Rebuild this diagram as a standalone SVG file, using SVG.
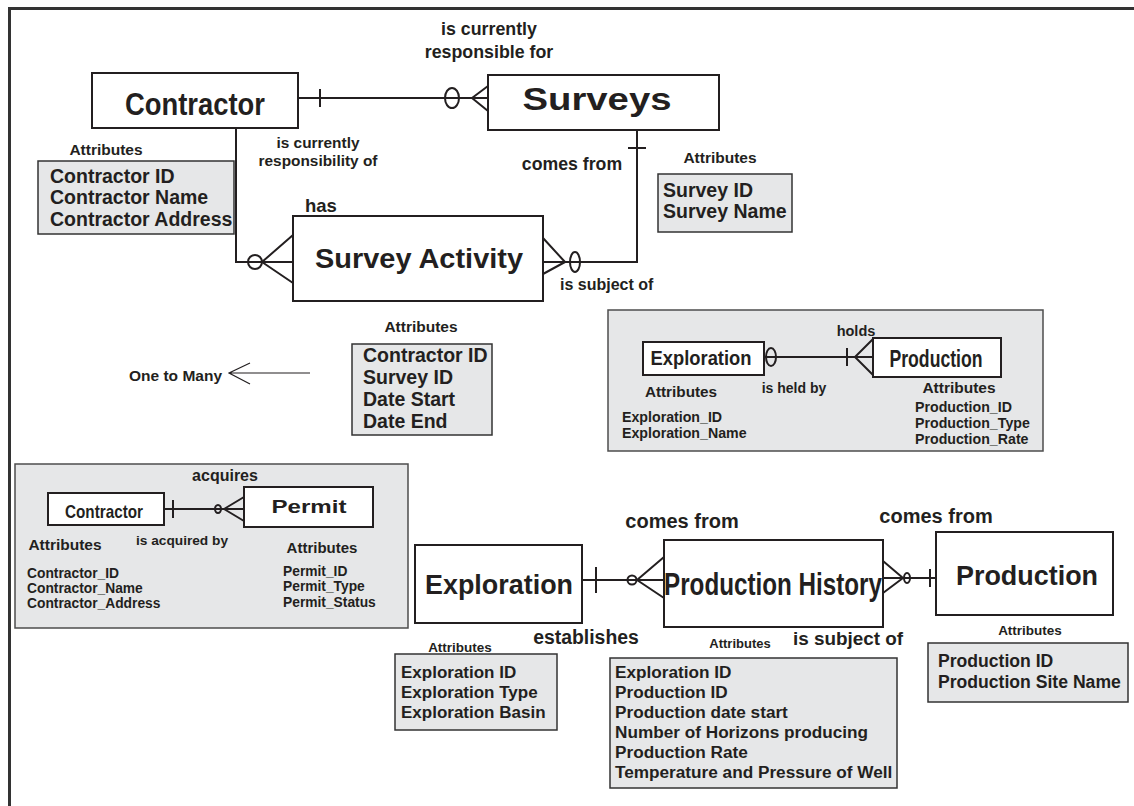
<svg xmlns="http://www.w3.org/2000/svg" width="1134" height="806" viewBox="0 0 1134 806">
  <style>
    text { font-family: "Liberation Sans", Arial, sans-serif; font-weight: bold; fill: #231f20; }
    .ent { fill: #ffffff; stroke: #231f20; stroke-width: 2; }
    .attr { fill: #e6e7e8; stroke: #333333; stroke-width: 1.5; }
    .panel { fill: #e6e7e8; stroke: #4d4d4d; stroke-width: 1.5; }
    .ln { fill: none; stroke: #231f20; stroke-width: 2; }
    .thin { fill: none; stroke: #231f20; stroke-width: 1.2; }
    .mid { text-anchor: middle; }
  </style>

  <rect x="0" y="0" width="1134" height="806" fill="#ffffff"/>
  <!-- frame -->
  <path d="M9.5,806 V8.5 H1134" fill="none" stroke="#333333" stroke-width="3"/>

  <!-- ===== Top ER model ===== -->
  <g id="contractor">
    <rect class="ent" x="92" y="73" width="206" height="55"/>
    <text x="195" y="115" class="mid" font-size="32" textLength="140" lengthAdjust="spacingAndGlyphs">Contractor</text>
  </g>
  <g id="contractor-attributes">
    <text x="106" y="155" class="mid" font-size="15.5">Attributes</text>
    <rect class="attr" x="38" y="161" width="196" height="73"/>
    <text x="50" y="183" font-size="19.5">Contractor ID</text>
    <text x="50" y="204" font-size="19.5">Contractor Name</text>
    <text x="50" y="226" font-size="19.5">Contractor Address</text>
  </g>

  <g id="surveys">
    <rect class="ent" x="488" y="75" width="231" height="55"/>
    <text x="597" y="110" class="mid" font-size="31" textLength="149" lengthAdjust="spacingAndGlyphs">Surveys</text>
  </g>
  <g id="surveys-attributes">
    <text x="720" y="163" class="mid" font-size="15.5">Attributes</text>
    <rect class="attr" x="658" y="174" width="134" height="58"/>
    <text x="663" y="197" font-size="19.5">Survey ID</text>
    <text x="663" y="218" font-size="19.5">Survey Name</text>
  </g>

  <g id="survey-activity">
    <rect class="ent" x="293" y="216" width="250" height="85"/>
    <text x="419" y="268" class="mid" font-size="28" textLength="208" lengthAdjust="spacingAndGlyphs">Survey Activity</text>
  </g>
  <g id="survey-activity-attributes">
    <text x="421" y="332" class="mid" font-size="15.5">Attributes</text>
    <rect class="attr" x="352" y="344" width="140" height="91"/>
    <text x="363" y="362" font-size="19.5">Contractor ID</text>
    <text x="363" y="384" font-size="19.5">Survey ID</text>
    <text x="363" y="406" font-size="19.5">Date Start</text>
    <text x="363" y="428" font-size="19.5">Date End</text>
  </g>

  <g id="legend">
    <text x="129" y="381" font-size="15.5">One to Many</text>
    <path class="thin" d="M310,373 H229 M250,363 L229,373 L250,384"/>
  </g>

  <g id="connectors">
    <!-- Contractor to Surveys -->
    <path class="ln" d="M298,98 H488 M320,89 V107 M472,98 L488,86 M472,98 L488,111"/>
    <ellipse class="ln" cx="452" cy="98" rx="7" ry="10" fill="#ffffff"/>
    <!-- Contractor to Survey Activity -->
    <path class="ln" d="M236,128 V262 H293 M262,262 L293,235 M262,262 L293,283"/>
    <circle class="ln" cx="255" cy="262" r="7" fill="#ffffff"/>
    <!-- Surveys to Survey Activity -->
    <path class="ln" d="M637,130 V262 H543 M628,148 H646 M565,262 L543,238 M565,262 L543,274"/>
    <ellipse class="ln" cx="575" cy="262" rx="5" ry="10" fill="#ffffff"/>
  </g>

  <g id="labels-top">
    <text x="489" y="35" class="mid" font-size="17.8">is currently</text>
    <text x="489" y="58" class="mid" font-size="17.8">responsible for</text>
    <text x="318" y="148" class="mid" font-size="15.4">is currently</text>
    <text x="318" y="166" class="mid" font-size="15.4">responsibility of</text>
    <text x="572" y="170" class="mid" font-size="17.7">comes from</text>
    <text x="305" y="212" font-size="18.5">has</text>
    <text x="560" y="290" font-size="16">is subject of</text>
  </g>

  <!-- ===== Exploration / Production panel ===== -->
  <g id="panel-exploration-production">
    <rect class="panel" x="608" y="310" width="435" height="141"/>
    <g id="panel-exploration">
      <rect class="ent" x="643" y="342" width="121" height="33"/>
      <text x="701" y="365" class="mid" font-size="20" textLength="101" lengthAdjust="spacingAndGlyphs">Exploration</text>
      <text x="681" y="397" class="mid" font-size="15.3">Attributes</text>
      <text x="622" y="422" font-size="14.2">Exploration_ID</text>
      <text x="622" y="438" font-size="14.2">Exploration_Name</text>
    </g>
    <g id="panel-production">
      <rect class="ent" x="873" y="338" width="128" height="39"/>
      <text x="936" y="367" class="mid" font-size="23" textLength="93" lengthAdjust="spacingAndGlyphs">Production</text>
      <text x="959" y="393" class="mid" font-size="15.5">Attributes</text>
      <text x="915" y="412" font-size="14.2">Production_ID</text>
      <text x="915" y="428" font-size="14.2">Production_Type</text>
      <text x="915" y="444" font-size="14.2">Production_Rate</text>
    </g>
    <g id="panel-connector">
      <path class="ln" d="M764,357 H873 M847,348 V366 M855,357 L873,339 M855,357 L873,375"/>
      <ellipse class="ln" cx="771" cy="357" rx="5" ry="9" fill="#e6e7e8"/>
    </g>
    <text x="856" y="336" class="mid" font-size="14.5">holds</text>
    <text x="794" y="393" class="mid" font-size="14">is held by</text>
  </g>

  <!-- ===== Contractor / Permit panel ===== -->
  <g id="panel-contractor-permit">
    <rect class="panel" x="15" y="464" width="393" height="164"/>
    <g id="panel-contractor">
      <rect class="ent" x="48" y="493" width="116" height="32"/>
      <text x="104" y="518" class="mid" font-size="19" textLength="78" lengthAdjust="spacingAndGlyphs">Contractor</text>
      <text x="65" y="550" class="mid" font-size="15.5">Attributes</text>
      <text x="27" y="578" font-size="13.8">Contractor_ID</text>
      <text x="27" y="593" font-size="13.8">Contractor_Name</text>
      <text x="27" y="608" font-size="13.8">Contractor_Address</text>
    </g>
    <g id="panel-permit">
      <rect class="ent" x="244" y="487" width="129" height="40"/>
      <text x="309" y="513" class="mid" font-size="18" textLength="75" lengthAdjust="spacingAndGlyphs">Permit</text>
      <text x="322" y="553" class="mid" font-size="15">Attributes</text>
      <text x="283" y="576" font-size="13.8">Permit_ID</text>
      <text x="283" y="591" font-size="13.8">Permit_Type</text>
      <text x="283" y="607" font-size="13.8">Permit_Status</text>
    </g>
    <g id="panel-permit-connector">
      <path class="ln" d="M164,509 H244 M173,500 V518 M224,509 L244,497 M224,509 L244,521"/>
      <ellipse class="ln" cx="218" cy="509" rx="3" ry="4" fill="#e6e7e8"/>
    </g>
    <text x="225" y="481" class="mid" font-size="16">acquires</text>
    <text x="182" y="545" class="mid" font-size="13.7">is acquired by</text>
  </g>

  <!-- ===== Bottom ER model ===== -->
  <g id="exploration">
    <rect class="ent" x="415" y="545" width="167" height="78"/>
    <text x="499" y="594" class="mid" font-size="27" textLength="148" lengthAdjust="spacingAndGlyphs">Exploration</text>
  </g>
  <g id="exploration-attributes">
    <text x="460" y="652" class="mid" font-size="13.5">Attributes</text>
    <rect class="attr" x="395" y="654" width="162" height="76"/>
    <text x="401" y="678" font-size="17">Exploration ID</text>
    <text x="401" y="698" font-size="17">Exploration Type</text>
    <text x="401" y="718" font-size="17">Exploration Basin</text>
  </g>

  <g id="production-history">
    <rect class="ent" x="664" y="540" width="219" height="87"/>
    <text x="773" y="595" class="mid" font-size="31" textLength="218" lengthAdjust="spacingAndGlyphs">Production History</text>
  </g>
  <g id="production-history-attributes">
    <text x="740" y="648" class="mid" font-size="13">Attributes</text>
    <rect class="attr" x="610" y="658" width="287" height="130"/>
    <text x="615" y="678" font-size="17.2">Exploration ID</text>
    <text x="615" y="698" font-size="17.2">Production ID</text>
    <text x="615" y="718" font-size="17.2">Production date start</text>
    <text x="615" y="738" font-size="17.2">Number of Horizons producing</text>
    <text x="615" y="758" font-size="17.2">Production Rate</text>
    <text x="615" y="778" font-size="17.2">Temperature and Pressure of Well</text>
  </g>

  <g id="production">
    <rect class="ent" x="936" y="532" width="177" height="83"/>
    <text x="1027" y="585" class="mid" font-size="28" textLength="142" lengthAdjust="spacingAndGlyphs">Production</text>
  </g>
  <g id="production-attributes">
    <text x="1030" y="635" class="mid" font-size="13.5">Attributes</text>
    <rect class="attr" x="928" y="643" width="200" height="59"/>
    <text x="938" y="667" font-size="17.6">Production ID</text>
    <text x="938" y="688" font-size="17.6">Production Site Name</text>
  </g>

  <g id="connectors-bottom">
    <!-- Exploration to Production History -->
    <path class="ln" d="M582,580 H664 M596,567 V593 M637,580 L664,557 M637,580 L664,598"/>
    <circle class="ln" cx="632" cy="580" r="4.5" fill="#ffffff"/>
    <!-- Production to Production History -->
    <path class="ln" d="M883,578 H936 M930,569 V587 M903,578 L883,561 M903,578 L883,593"/>
    <ellipse class="ln" cx="907" cy="578" rx="3" ry="5" fill="#ffffff"/>
  </g>

  <g id="labels-bottom">
    <text x="682" y="528" class="mid" font-size="20">comes from</text>
    <text x="936" y="523" class="mid" font-size="20">comes from</text>
    <text x="586" y="644" class="mid" font-size="19.4">establishes</text>
    <text x="848" y="645" class="mid" font-size="18.9">is subject of</text>
  </g>
</svg>
